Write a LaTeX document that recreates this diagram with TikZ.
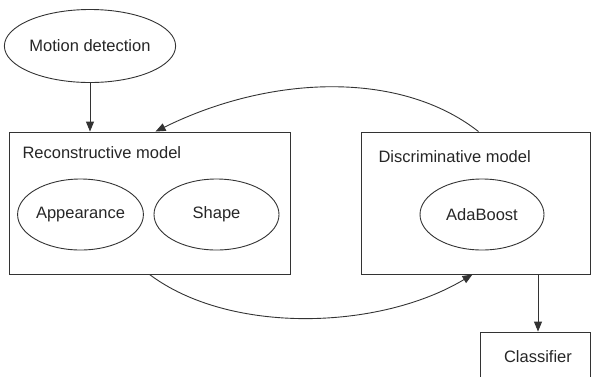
\documentclass[tikz,border=0pt]{standalone}
\usepackage{fontspec}
\setmainfont{Liberation Sans}
\usetikzlibrary{arrows.meta,shapes.geometric}
\begin{document}
\begin{tikzpicture}[x=1pt,y=-1pt,
  every node/.style={font=\fontsize{16.5}{19}\selectfont, text=black!85},
  line/.style={draw=black!80, line width=0.9pt},
  oval/.style={line, ellipse, inner sep=0pt},
  box/.style={line, rectangle, inner sep=0pt},
  arr/.style={line, -{Triangle[length=10pt,width=8pt]}}]
\useasboundingbox (0,0) rectangle (591,376);
% nodes
\node[oval, minimum width=162pt, minimum height=73pt] (motion) at (90,46) {Motion detection};
\node[box, minimum width=281pt, minimum height=142pt] (recon) at (149.5,203) {};
\node[anchor=west] (reconlbl) at (19,153) {Reconstructive model};
\node[oval, minimum width=125pt, minimum height=71pt] (app) at (80.5,214.5) {Appearance};
\node[oval, minimum width=125pt, minimum height=71pt] (shape) at (216.5,214.5) {Shape};
\node[box, minimum width=229pt, minimum height=142pt] (disc) at (475.5,203) {};
\node[anchor=west] (disclbl) at (375,157) {Discriminative model};
\node[oval, minimum width=124pt, minimum height=71pt] (ada) at (482,214.5) {AdaBoost};
\node[box, minimum width=110pt, minimum height=60pt] (cls) at (535,362) {};
\node (clslbl) at (538,357) {Classifier};
% connectors
\coordinate (dtop) at ([xshift=3pt]disc.north);
\coordinate (rtop) at ([xshift=6pt]recon.north);
\coordinate (rbot) at (recon.south);
\coordinate (dbot) at ([xshift=-3pt]disc.south);
\draw[arr] (motion.south) -- (motion.south |- recon.north);
\draw[arr] (dtop) .. controls (400,70) and (270,75) .. (rtop);
\draw[arr] (rbot) .. controls (230,335) and (380,330) .. (dbot);
\draw[arr] (clslbl |- disc.south) -- (clslbl |- cls.north);
\end{tikzpicture}
\end{document}
